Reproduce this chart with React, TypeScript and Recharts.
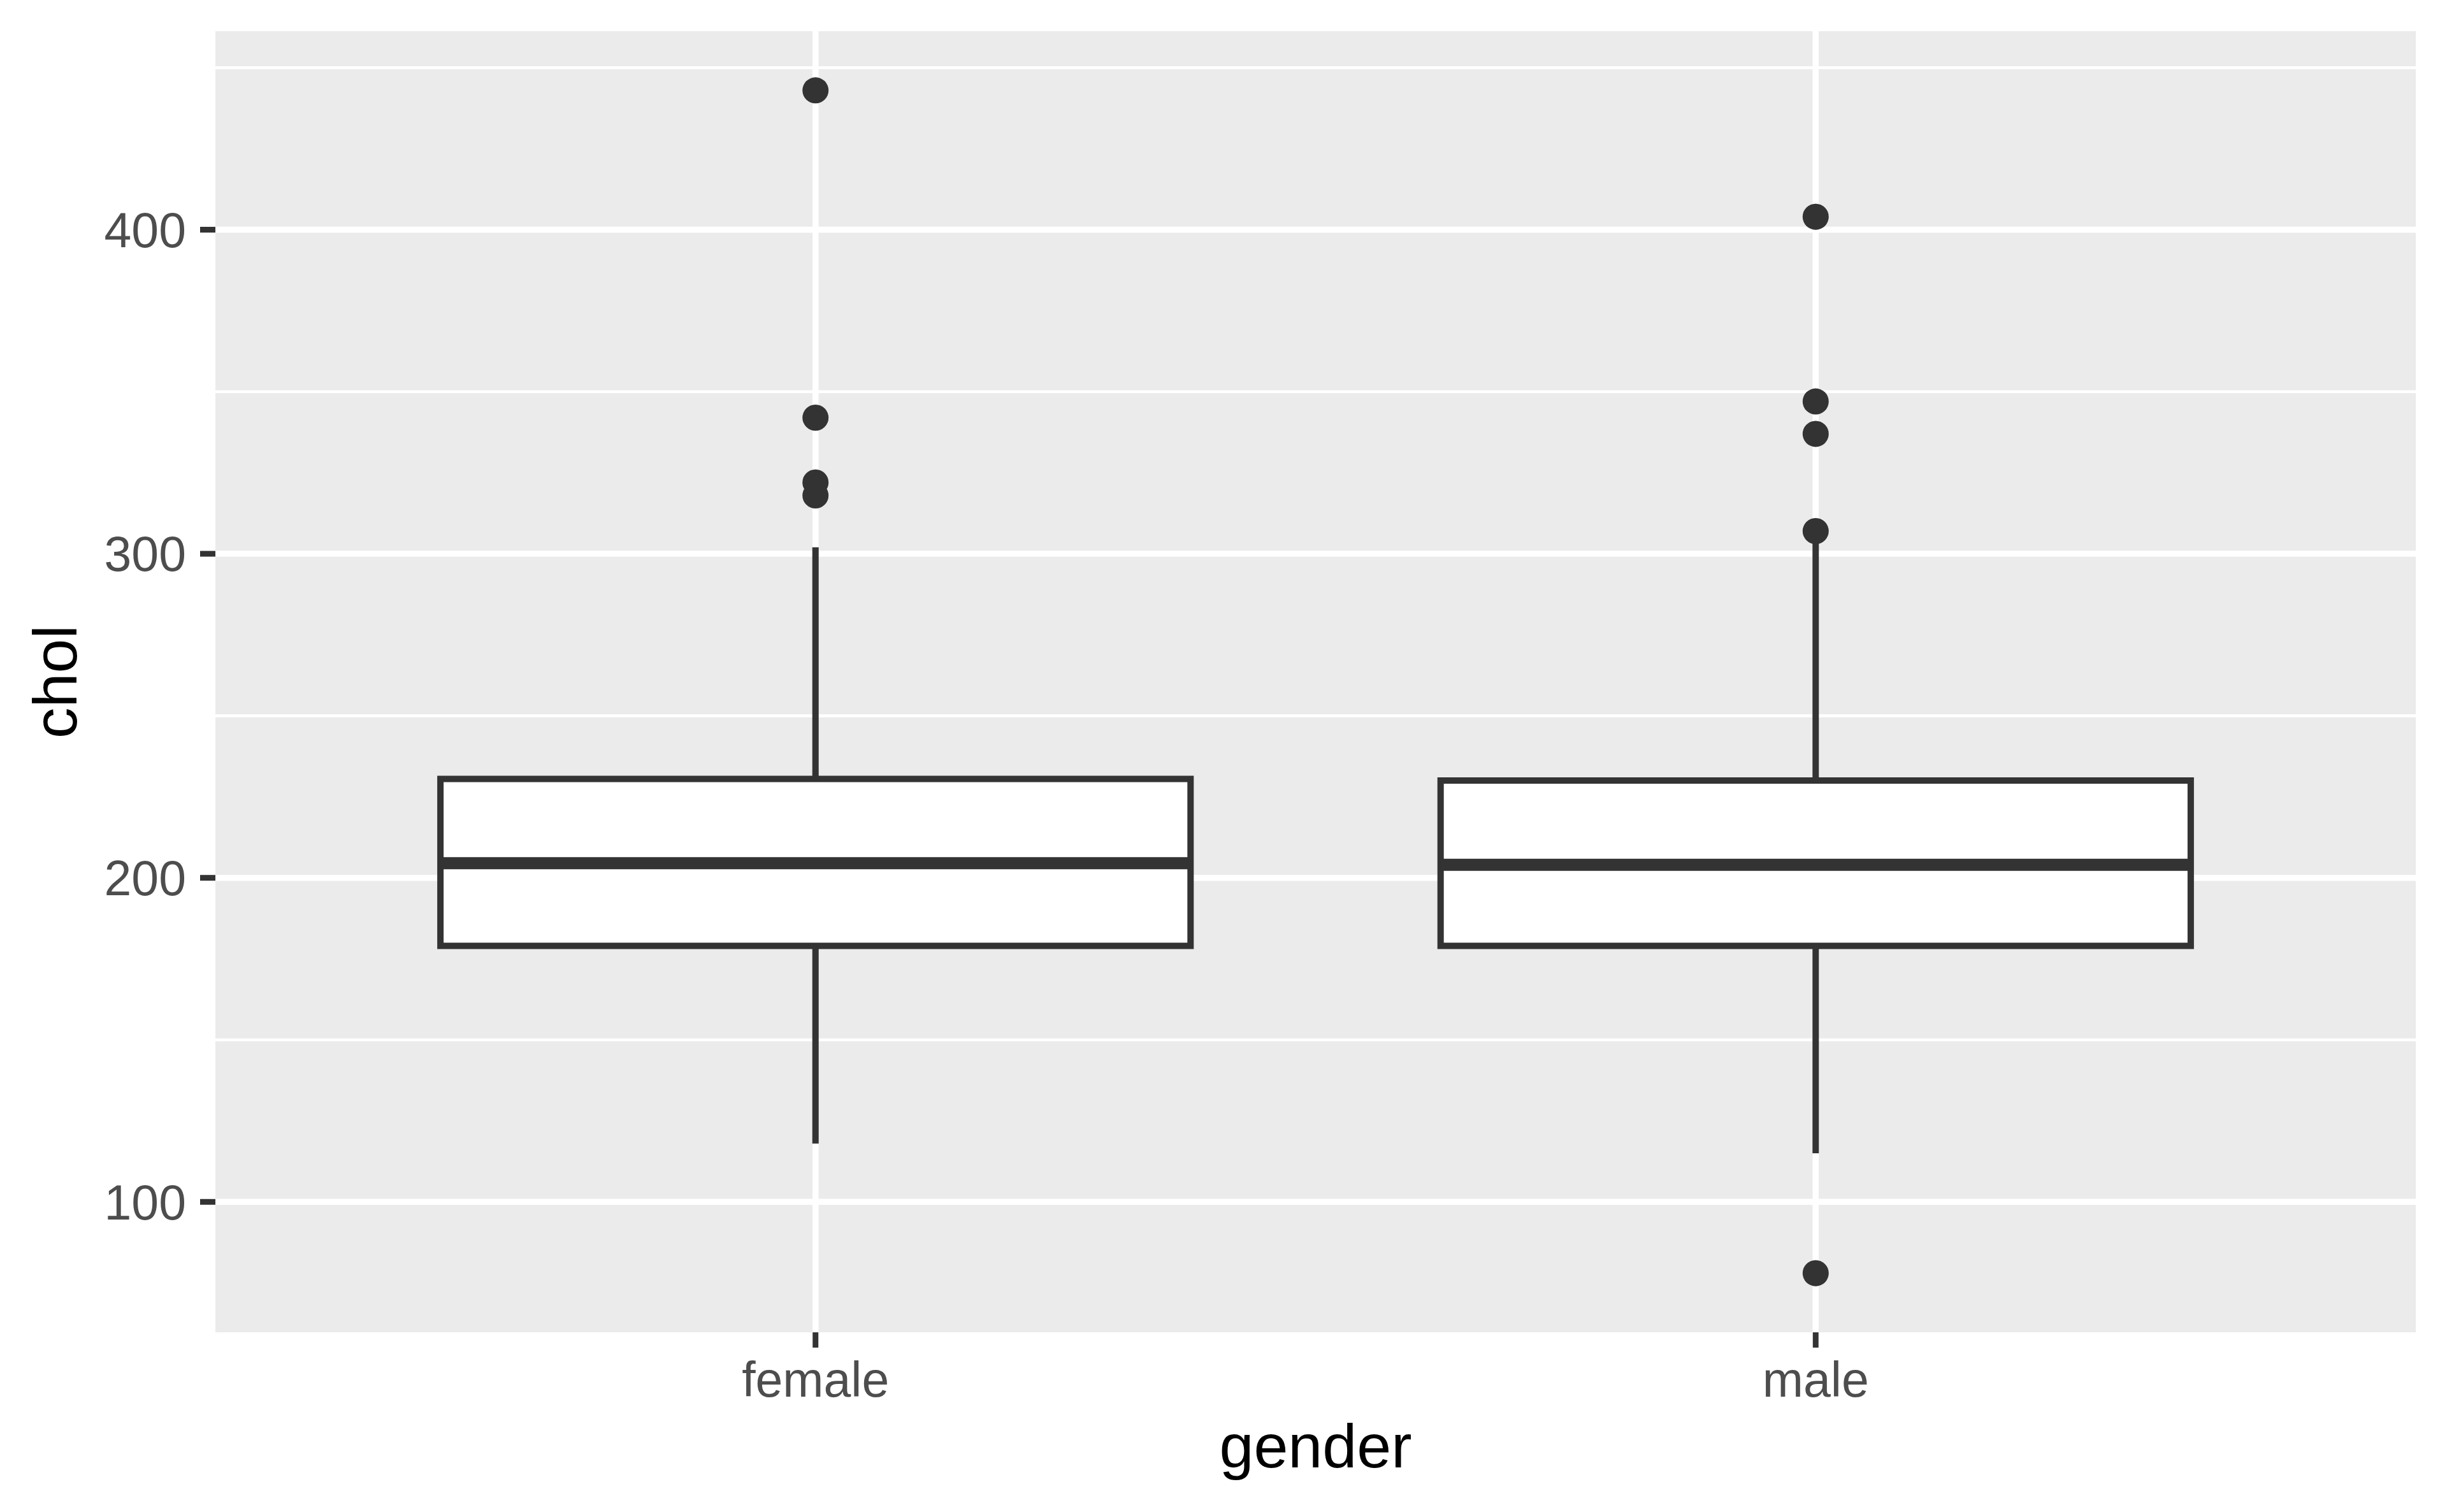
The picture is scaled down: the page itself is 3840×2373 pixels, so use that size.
import React from "react";
import {
  ComposedChart,
  XAxis,
  YAxis,
  CartesianGrid,
  ReferenceArea,
  ReferenceLine,
  Scatter,
  Label,
} from "recharts";

// ---- data ----
const categories = ["female", "male"];
const q1 = [179, 179];
const medians = [204.5, 204];
const q3 = [230.5, 230];
const whiskerLow = [118, 115];
const whiskerHigh = [302, 305];
const outliersFemale = [443, 342, 322, 318];
const outliersMale = [404, 347, 337, 307, 78];
const yTicks = [100, 200, 300, 400];
const yMinorTicks = [150, 250, 350, 450];
const xTicks = [1, 2];

// ---- derived ----
const outlierData = [
  ...outliersFemale.map((v) => ({ x: 1, y: v })),
  ...outliersMale.map((v) => ({ x: 2, y: v })),
];
const allVals = [...whiskerLow, ...whiskerHigh, ...outliersFemale, ...outliersMale];
const dMin = Math.min(...allVals);
const dMax = Math.max(...allVals);
const pad = (dMax - dMin) * 0.05;
const yDomain = [dMin - pad, dMax + pad];
const xDomain = [0.4, 2.6];
const BOX_HALF = 0.375;

const W = 3840;
const H = 2373;
const FONT = "'Liberation Sans', Arial, Helvetica, sans-serif";
const DARK = "#333333";

const Dot = (props: any) => {
  const { cx, cy } = props;
  if (cx == null || cy == null) return null;
  return <circle cx={cx} cy={cy} r={20.5} fill={DARK} />;
};

const XTitle = (props: any) => {
  const vb = props.viewBox || {};
  const cx = (vb.x ?? 338) + (vb.width ?? 3453) / 2;
  return (
    <text x={cx} y={2303} textAnchor="middle" fontSize={97} fill="#000000" fontFamily={FONT}>
      gender
    </text>
  );
};

const YTitle = (props: any) => {
  const vb = props.viewBox || {};
  const cy = (vb.y ?? 49) + (vb.height ?? 2042) / 2;
  return (
    <text
      x={120}
      y={cy}
      transform={`rotate(-90, 120, ${cy})`}
      textAnchor="middle"
      fontSize={97}
      fill="#000000"
      fontFamily={FONT}
    >
      chol
    </text>
  );
};

export default function App() {
  return (
    <div style={{ position: "absolute", left: 0, top: 0, width: W, height: H, background: "#FFFFFF" }}>
      <ComposedChart
        width={W}
        height={H}
        margin={{ top: 49, right: 49, bottom: 0, left: 0 }}
        style={{ fontFamily: FONT }}
      >
        <CartesianGrid
          fill="#EBEBEB"
          stroke="#FFFFFF"
          strokeWidth={4.6}
          horizontalValues={yMinorTicks}
          vertical={false}
        />
        <CartesianGrid
          stroke="#FFFFFF"
          strokeWidth={9.5}
          horizontalValues={yTicks}
          verticalValues={xTicks}
        />
        <XAxis
          type="number"
          dataKey="x"
          domain={xDomain}
          ticks={xTicks}
          allowDataOverflow
          interval={0}
          tickFormatter={(v: number) => categories[v - 1] ?? ""}
          height={282}
          axisLine={false}
          tickSize={24}
          tickMargin={22}
          tickLine={{ stroke: DARK, strokeWidth: 9 }}
          tick={{ fontSize: 77, fill: "#4D4D4D", fontFamily: FONT }}
        >
          <Label content={<XTitle />} />
        </XAxis>
        <YAxis
          type="number"
          dataKey="y"
          domain={yDomain}
          ticks={yTicks}
          allowDataOverflow
          interval={0}
          width={338}
          axisLine={false}
          tickSize={24}
          tickMargin={22}
          tickLine={{ stroke: DARK, strokeWidth: 9 }}
          tick={{ fontSize: 77, fill: "#4D4D4D", fontFamily: FONT }}
        >
          <Label content={<YTitle />} />
        </YAxis>

        {categories.map((c, i) => (
          <ReferenceLine
            key={`wl-${c}`}
            segment={[
              { x: i + 1, y: whiskerLow[i] },
              { x: i + 1, y: q1[i] },
            ]}
            stroke={DARK}
            strokeWidth={10}
            ifOverflow="visible"
          />
        ))}
        {categories.map((c, i) => (
          <ReferenceLine
            key={`wh-${c}`}
            segment={[
              { x: i + 1, y: q3[i] },
              { x: i + 1, y: whiskerHigh[i] },
            ]}
            stroke={DARK}
            strokeWidth={10}
            ifOverflow="visible"
          />
        ))}
        {categories.map((c, i) => (
          <ReferenceArea
            key={`box-${c}`}
            x1={i + 1 - BOX_HALF}
            x2={i + 1 + BOX_HALF}
            y1={q1[i]}
            y2={q3[i]}
            fill="#FFFFFF"
            fillOpacity={1}
            stroke={DARK}
            strokeWidth={10}
            ifOverflow="visible"
          />
        ))}
        {categories.map((c, i) => (
          <ReferenceLine
            key={`med-${c}`}
            segment={[
              { x: i + 1 - BOX_HALF, y: medians[i] },
              { x: i + 1 + BOX_HALF, y: medians[i] },
            ]}
            stroke={DARK}
            strokeWidth={19}
            ifOverflow="visible"
          />
        ))}
        <Scatter
          data={outlierData}
          dataKey="y"
          shape={<Dot />}
          isAnimationActive={false}
          legendType="none"
        />
      </ComposedChart>
    </div>
  );
}
